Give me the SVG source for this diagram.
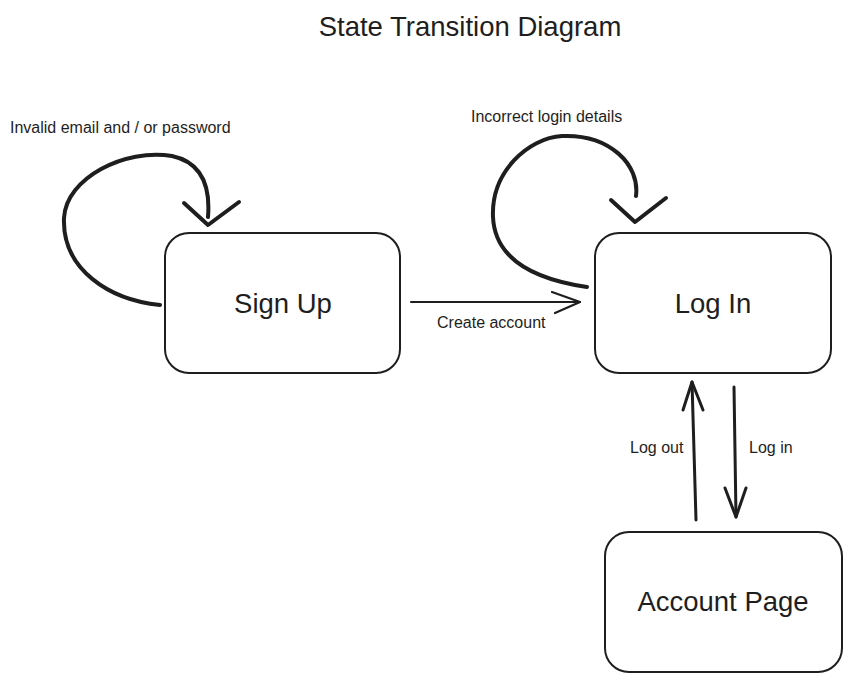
<svg xmlns="http://www.w3.org/2000/svg" width="851" height="681" viewBox="0 0 851 681">
<style>
.bg{fill:#ffffff}
.box{fill:#ffffff;stroke:#1e1e1e;stroke-width:2}
.t{font-family:"Liberation Sans",Arial,sans-serif;fill:#1e1e1e}
.big{font-size:27.5px;text-anchor:middle}
.lbl{font-size:16px}
.thick{fill:none;stroke:#1e1e1e;stroke-width:4;stroke-linecap:round;stroke-linejoin:round}
.thin{fill:none;stroke:#1e1e1e;stroke-width:2.2;stroke-linecap:round;stroke-linejoin:round}
.mid{fill:none;stroke:#1e1e1e;stroke-width:3;stroke-linecap:round;stroke-linejoin:round}
</style>
<rect class="bg" x="0" y="0" width="851" height="681"/>
<text class="t big" x="470" y="36">State Transition Diagram</text>
<g id="node-signup">
<rect class="box" x="165" y="233" width="235" height="140" rx="24"/>
<text class="t big" x="283" y="313">Sign Up</text>
</g>
<g id="node-login">
<rect class="box" x="595" y="233" width="236" height="140" rx="24"/>
<text class="t big" x="713" y="313">Log In</text>
</g>
<g id="node-account">
<rect class="box" x="605" y="532" width="237" height="140" rx="24"/>
<text class="t big" x="723" y="611">Account Page</text>
</g>
<g id="connectors">
<path class="thick" d="M 160 305 C 110 300, 62 270, 64 218 C 66 178, 125 148, 172 156 C 205 163, 210 192, 208 217"/>
<polyline class="thick" points="184,203 208,225 239,202"/>
<text class="t lbl" x="10" y="133">Invalid email and / or password</text>
<path class="thick" d="M 587 287 C 540 280, 495 262, 493 217 C 491 172, 528 138, 562 136 C 610 134, 640 165, 636 196"/>
<polyline class="thick" points="611,200 635,222 666,198"/>
<text class="t lbl" x="471" y="122">Incorrect login details</text>
<line class="thin" x1="411" y1="302" x2="580" y2="302"/>
<polyline class="thin" points="552,292 580,302 555,313"/>
<text class="t lbl" x="437" y="328">Create account</text>
<line class="mid" x1="696" y1="520" x2="692" y2="382"/>
<polyline class="mid" points="683,410 692,382 703,410"/>
<text class="t lbl" x="630" y="453">Log out</text>
<line class="mid" x1="734" y1="387" x2="736" y2="517"/>
<polyline class="mid" points="725,488 736,517 746,488"/>
<text class="t lbl" x="749" y="453">Log in</text>
</g>
</svg>
